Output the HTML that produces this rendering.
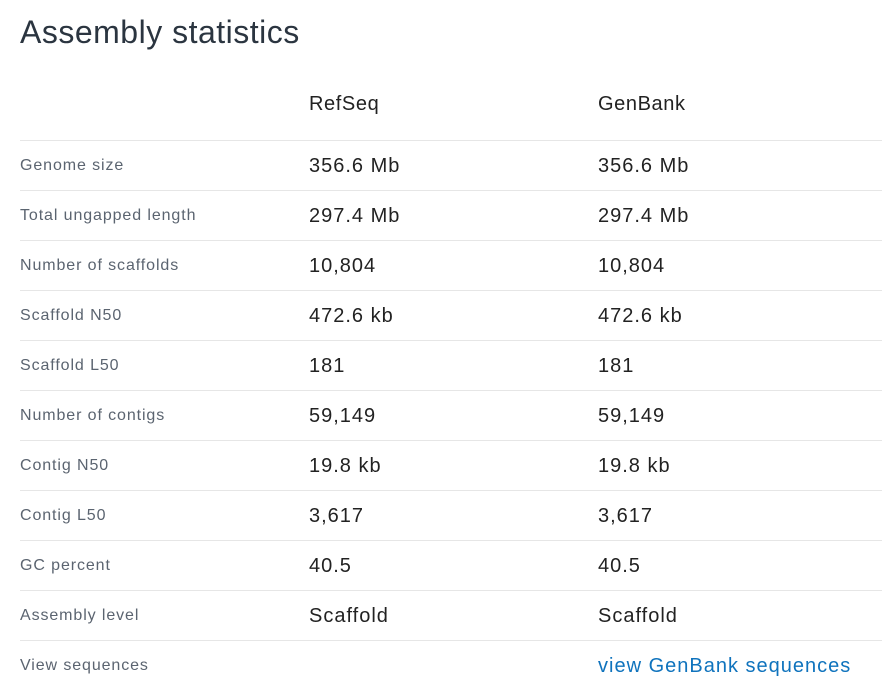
<!DOCTYPE html>
<html><head><meta charset="utf-8"><style>
body{margin:0;width:882px;height:700px;background:#fff;font-family:"Liberation Sans",Arial,sans-serif;position:relative;overflow:hidden}
.t{position:absolute;left:20px;top:14px;font-size:32px;color:#2b3540;white-space:nowrap;letter-spacing:0.5px}
.row{position:absolute;left:20px;width:862px;height:50px;border-top:1px solid #e6e6e6}
.l{position:absolute;left:0;top:0;line-height:50px;font-size:16px;color:#5b6470;letter-spacing:0.9px;white-space:nowrap}
.v{position:absolute;top:0;line-height:50px;font-size:20px;color:#222;letter-spacing:1px;white-space:nowrap}
.a{left:289px}.b{left:578px}
.lnk{color:#0f73bd}
</style></head><body>
<div class="t">Assembly statistics</div>
<div class="row" style="top:79px;border-top:none;height:60px"><span class="v a" style="line-height:50px;letter-spacing:0.6px">RefSeq</span><span class="v b" style="line-height:50px;letter-spacing:0.6px">GenBank</span></div>
<div class="row" style="top:140px"><span class="l">Genome size</span><span class="v a">356.6 Mb</span><span class="v b">356.6 Mb</span></div>
<div class="row" style="top:190px"><span class="l">Total ungapped length</span><span class="v a">297.4 Mb</span><span class="v b">297.4 Mb</span></div>
<div class="row" style="top:240px"><span class="l">Number of scaffolds</span><span class="v a">10,804</span><span class="v b">10,804</span></div>
<div class="row" style="top:290px"><span class="l">Scaffold N50</span><span class="v a">472.6 kb</span><span class="v b">472.6 kb</span></div>
<div class="row" style="top:340px"><span class="l">Scaffold L50</span><span class="v a">181</span><span class="v b">181</span></div>
<div class="row" style="top:390px"><span class="l">Number of contigs</span><span class="v a">59,149</span><span class="v b">59,149</span></div>
<div class="row" style="top:440px"><span class="l">Contig N50</span><span class="v a">19.8 kb</span><span class="v b">19.8 kb</span></div>
<div class="row" style="top:490px"><span class="l">Contig L50</span><span class="v a">3,617</span><span class="v b">3,617</span></div>
<div class="row" style="top:540px"><span class="l">GC percent</span><span class="v a">40.5</span><span class="v b">40.5</span></div>
<div class="row" style="top:590px"><span class="l">Assembly level</span><span class="v a">Scaffold</span><span class="v b">Scaffold</span></div>
<div class="row" style="top:640px"><span class="l">View sequences</span><span class="v b lnk">view GenBank sequences</span></div>
</body></html>
